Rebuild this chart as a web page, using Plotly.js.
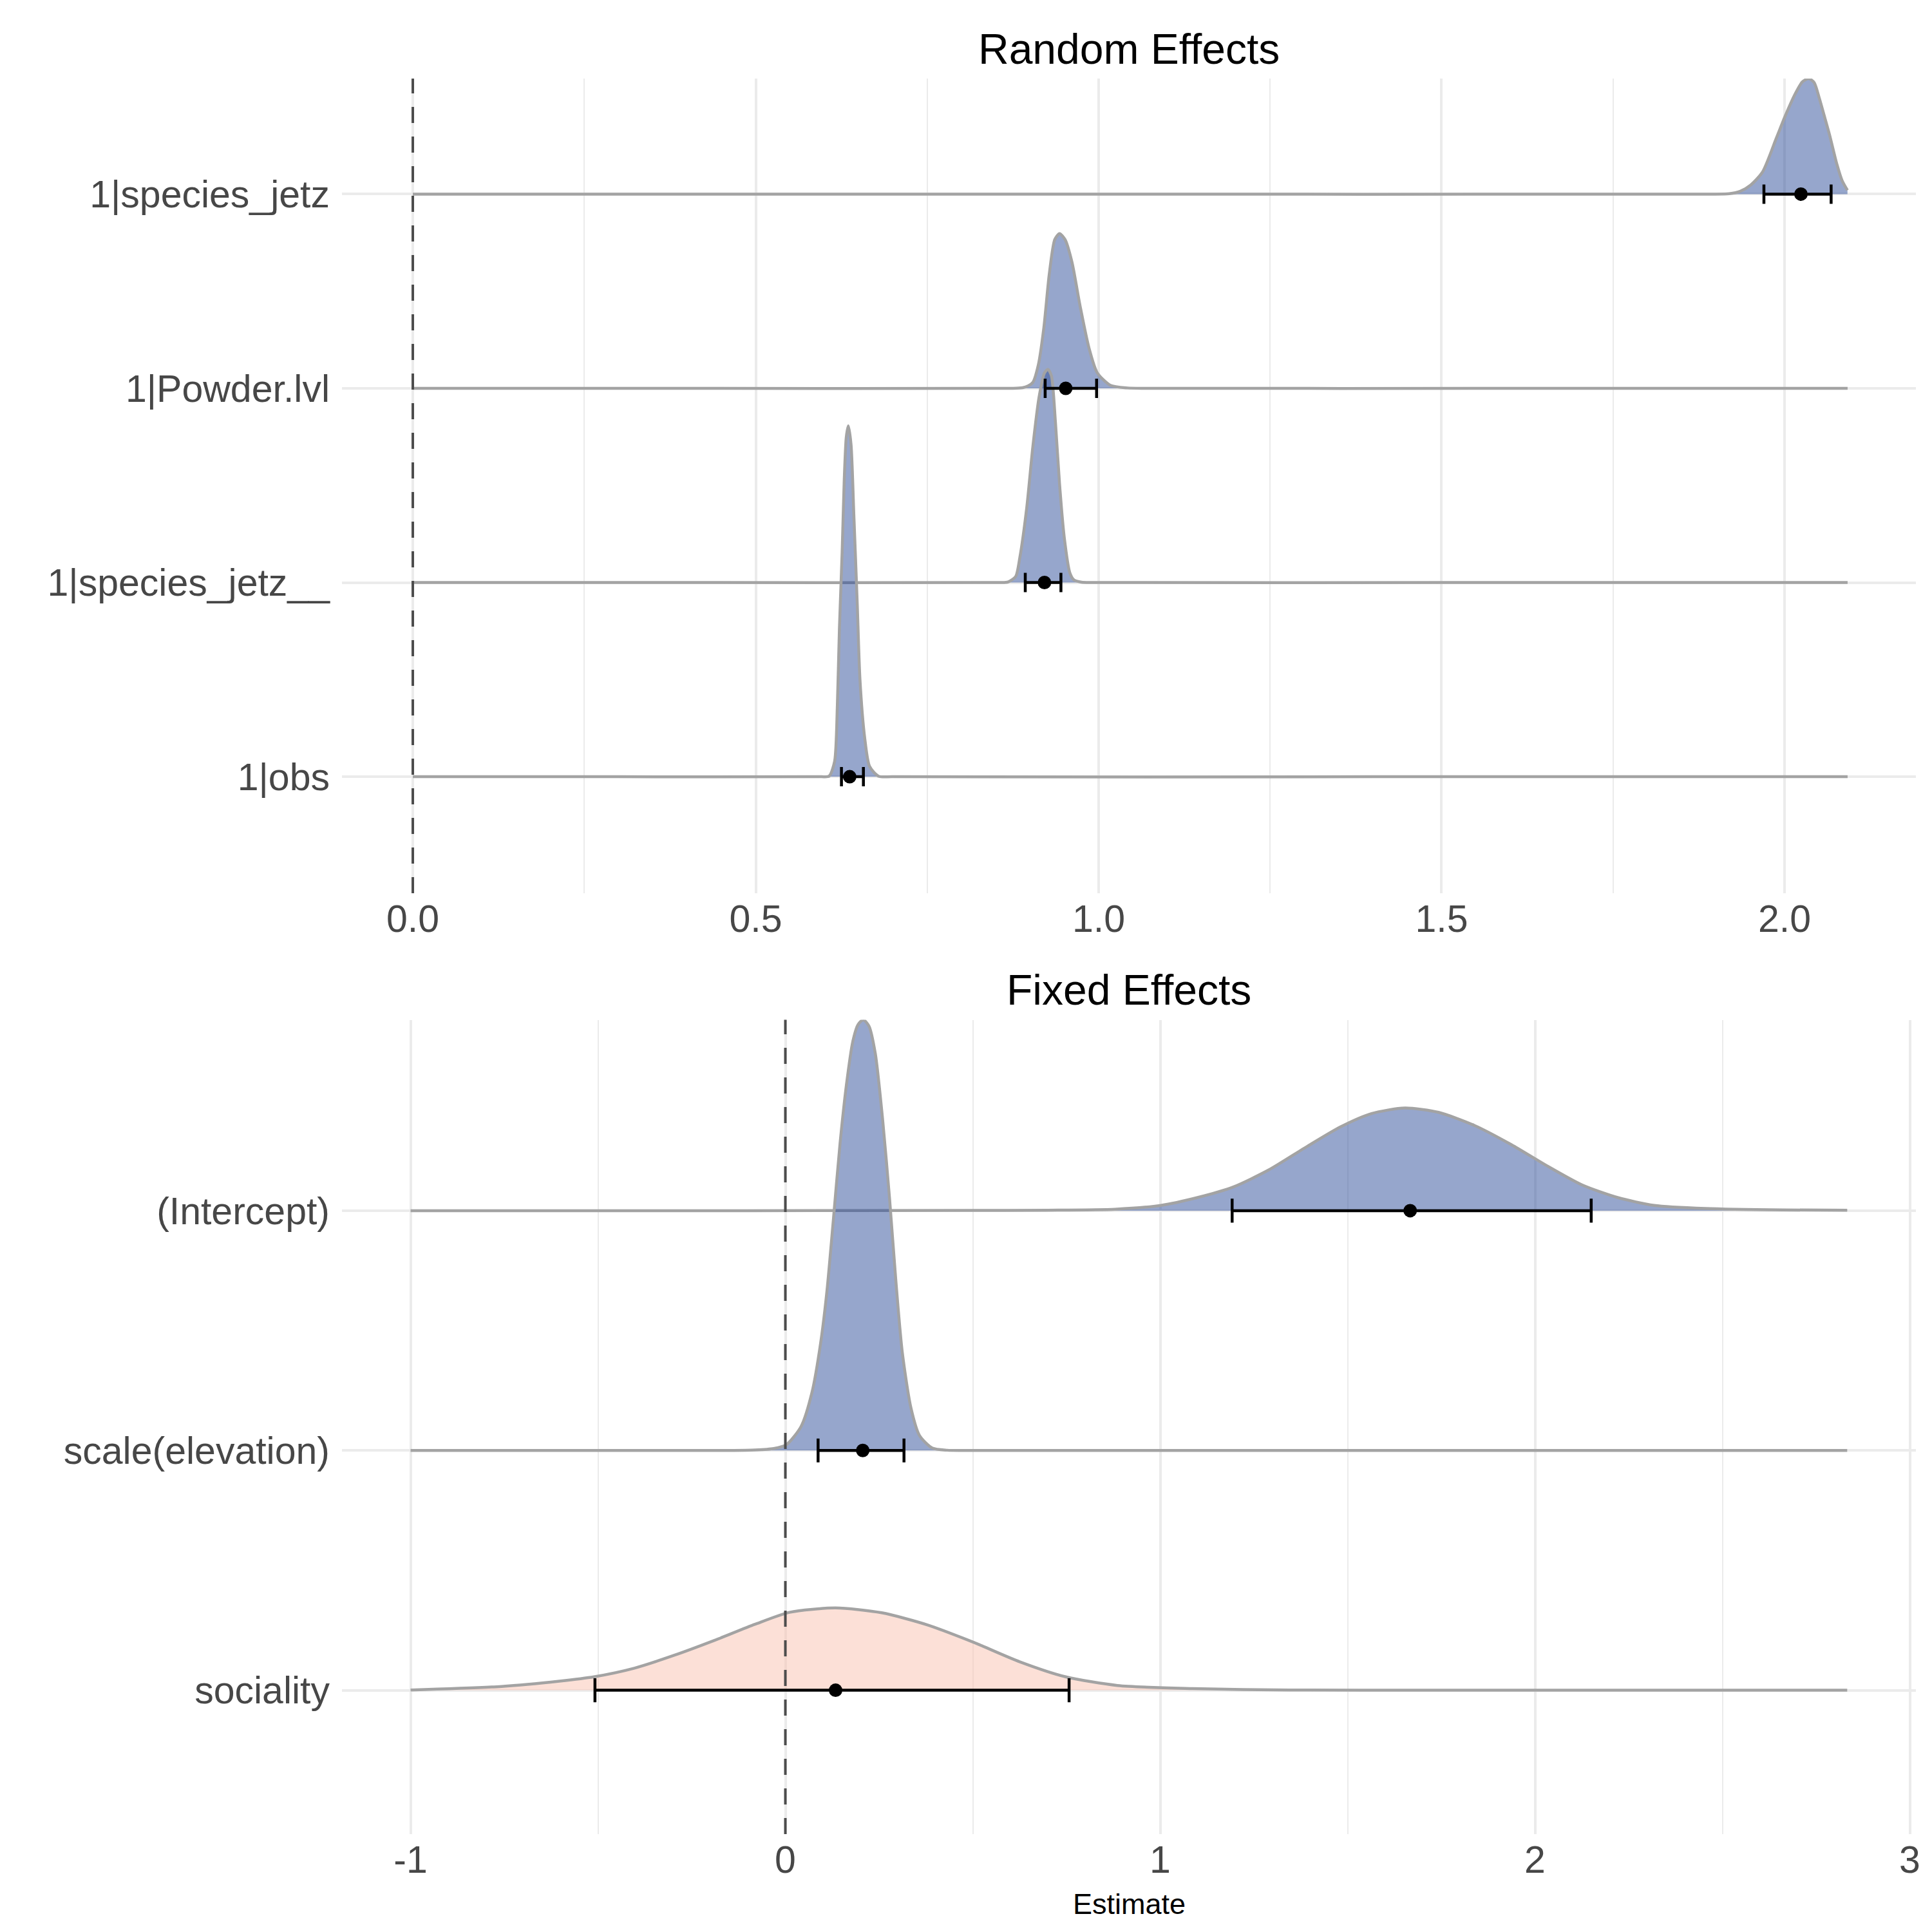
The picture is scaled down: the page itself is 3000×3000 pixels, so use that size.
<!DOCTYPE html>
<html>
<head>
<meta charset="utf-8">
<script src="https://cdn.plot.ly/plotly-3.0.1.min.js"></script>
<style>html,body{margin:0;padding:0;background:#fff;}#chart{width:3000px;height:3000px;}</style>
</head>
<body>
<div id="chart"></div>
<script>
// ---------- Random effects (top panel) ----------
const randomCats = ['1|obs', '1|species_jetz__', '1|Powder.lvl', '1|species_jetz'];
const randomTickVals = [0, 0.5, 1, 1.5, 2];
const randomTickText = ['0.0', '0.5', '1.0', '1.5', '2.0'];
const randomMinor = [0.25, 0.75, 1.25, 1.75];

// posterior densities (x, scaled ridge height)
const obsX = [0, 0.30, 0.595, 0.607, 0.615, 0.619, 0.622, 0.626, 0.629, 0.632, 0.635, 0.639, 0.643, 0.648, 0.652, 0.659, 0.666, 0.679, 0.70, 1.4, 2.092];
const obsH = [0, 0, 0, 0.003, 0.079, 0.368, 0.762, 1.157, 1.525, 1.748, 1.807, 1.709, 1.355, 0.894, 0.50, 0.197, 0.053, 0.003, 0, 0, 0];

const sjuX = [0, 0.45, 0.855, 0.868, 0.879, 0.885, 0.895, 0.904, 0.913, 0.921, 0.926, 0.931, 0.937, 0.943, 0.950, 0.958, 0.964, 0.975, 0.99, 1.5, 2.092];
const sjuH = [0, 0, 0, 0.003, 0.031, 0.127, 0.381, 0.698, 0.952, 1.079, 1.098, 1.066, 0.826, 0.507, 0.228, 0.05, 0.013, 0.002, 0, 0, 0];

const powX = [0, 0.45, 0.875, 0.889, 0.897, 0.904, 0.912, 0.920, 0.928, 0.936, 0.943, 0.951, 0.961, 0.973, 0.986, 0.998, 1.017, 1.042, 1.07, 1.6, 2.092];
const powH = [0, 0, 0, 0.003, 0.012, 0.03, 0.12, 0.31, 0.588, 0.766, 0.797, 0.766, 0.651, 0.423, 0.207, 0.08, 0.016, 0.002, 0, 0, 0];

const sjX = [0, 0.95, 1.890, 1.9195, 1.9352, 1.9508, 1.9680, 1.9884, 2.0009, 2.0150, 2.0260, 2.0354, 2.0432, 2.0511, 2.0573, 2.0661, 2.0761, 2.0840, 2.0918];
const sjH = [0, 0, 0, 0.002, 0.014, 0.047, 0.114, 0.291, 0.401, 0.512, 0.578, 0.595, 0.575, 0.49, 0.412, 0.30, 0.158, 0.07, 0.02];

const randomEst = [0.637, 0.921, 0.952, 2.024];
const randomLo  = [0.625, 0.893, 0.922, 1.970];
const randomHi  = [0.657, 0.945, 0.997, 2.068];

// ---------- Fixed effects (bottom panel) ----------
const fixedCats = ['sociality', 'scale(elevation)', '(Intercept)'];
const fixedTickVals = [-1, 0, 1, 2, 3];
const fixedTickText = ['-1', '0', '1', '2', '3'];
const fixedMinor = [-0.5, 0.5, 1.5, 2.5];

const socX = [-1, -0.757, -0.603, -0.511, -0.403, -0.296, -0.189, -0.081, 0.011, 0.134, 0.257, 0.380, 0.502, 0.625, 0.748, 0.886, 1.086, 1.344, 1.70, 2.25, 2.833];
const socH = [0.001, 0.016, 0.038, 0.056, 0.092, 0.146, 0.208, 0.275, 0.325, 0.343, 0.323, 0.272, 0.20, 0.119, 0.056, 0.02, 0.007, 0.001, 0, 0, 0];

const elevX = [-1, -0.55, -0.15, -0.08, -0.031, 0.002, 0.042, 0.071, 0.094, 0.111, 0.128, 0.146, 0.163, 0.180, 0.194, 0.208, 0.223, 0.240, 0.260, 0.278, 0.295, 0.312, 0.335, 0.358, 0.392, 0.432, 0.48, 1.6, 2.833];
const elevH = [0, 0, 0, 0.002, 0.008, 0.023, 0.10, 0.242, 0.447, 0.666, 0.961, 1.282, 1.526, 1.706, 1.776, 1.796, 1.77, 1.655, 1.372, 1.051, 0.704, 0.409, 0.178, 0.062, 0.01, 0.001, 0, 0, 0];

const intX = [-1, -0.1, 0.50, 0.70, 0.879, 1.002, 1.098, 1.194, 1.290, 1.386, 1.482, 1.564, 1.653, 1.743, 1.839, 1.935, 2.031, 2.126, 2.222, 2.318, 2.455, 2.661, 2.833];
const intH = [0, 0, 0.001, 0.002, 0.006, 0.022, 0.054, 0.098, 0.17, 0.262, 0.35, 0.405, 0.428, 0.41, 0.355, 0.277, 0.188, 0.107, 0.054, 0.022, 0.009, 0.003, 0.002];

const fixedEst = [0.134, 0.2065, 1.667];
const fixedLo  = [-0.508, 0.0873, 1.192];
const fixedHi  = [0.757, 0.3165, 2.150];

// ---------- styling ----------
const BLUE = 'rgba(45,77,153,0.5)';
const SALMON = 'rgba(249,194,175,0.5)';
const OUTLINE = '#A3A3A3';
const GRID = '#EBEBEB';
const FONT = 'Liberation Sans, Arial, Helvetica, sans-serif';

const traces = [];
function ridge(xs, hs, level, fill, xa, ya) {
  traces.push({
    type: 'scatter', mode: 'lines', x: [xs[0], xs[xs.length - 1]], y: [level, level],
    xaxis: xa, yaxis: ya, line: {width: 0, color: 'rgba(0,0,0,0)'}, hoverinfo: 'skip', showlegend: false
  });
  traces.push({
    type: 'scatter', mode: 'lines', x: xs, y: hs.map(h => level + h),
    xaxis: xa, yaxis: ya, fill: 'tonexty', fillcolor: fill,
    line: {color: OUTLINE, width: 4.5, shape: 'spline', smoothing: 0.7}, hoverinfo: 'skip', showlegend: false
  });
}

// ridges drawn from the top row down, so lower rows overlap upper ones
ridge(sjX, sjH, 4, BLUE, 'x', 'y');
ridge(powX, powH, 3, BLUE, 'x', 'y');
ridge(sjuX, sjuH, 2, BLUE, 'x', 'y');
ridge(obsX, obsH, 1, BLUE, 'x', 'y');

ridge(intX, intH, 3, BLUE, 'x2', 'y2');
ridge(elevX, elevH, 2, BLUE, 'x2', 'y2');
ridge(socX, socH, 1, SALMON, 'x2', 'y2');

function intervals(est, lo, hi, xa, ya, capw) {
  traces.push({
    type: 'scatter', mode: 'markers', x: est, y: est.map((_, i) => i + 1),
    xaxis: xa, yaxis: ya,
    marker: {color: '#000', size: 21, line: {width: 0}},
    error_x: {
      type: 'data', symmetric: false,
      array: hi.map((v, i) => v - est[i]),
      arrayminus: lo.map((v, i) => est[i] - v),
      color: '#000', thickness: 4.5, width: capw
    },
    hoverinfo: 'skip', showlegend: false
  });
}
intervals(randomEst, randomLo, randomHi, 'x', 'y', 15);
intervals(fixedEst, fixedLo, fixedHi, 'x2', 'y2', 18.6);

const L = 531 / 3000, R = 2975 / 3000;
const tickFont = {family: FONT, size: 59, color: '#474747'};

function xAxis(range, vals, text, minor, anchor) {
  return {
    domain: [L, R], anchor: anchor, range: range,
    tickmode: 'array', tickvals: vals, ticktext: text,
    showgrid: true, gridcolor: GRID, gridwidth: 4,
    minor: {tickmode: 'array', tickvals: minor, showgrid: true, gridcolor: GRID, gridwidth: 2, ticks: ''},
    zeroline: false, showline: false, ticks: '', tickfont: tickFont, fixedrange: true
  };
}
function yAxis(domain, range, cats, anchor) {
  return {
    domain: domain, anchor: anchor, range: range,
    tickmode: 'array', tickvals: cats.map((_, i) => i + 1), ticktext: cats,
    showgrid: true, gridcolor: GRID, gridwidth: 4,
    zeroline: false, showline: false, ticks: '', tickfont: tickFont, fixedrange: true,
    ticklabelstandoff: 18
  };
}

const layout = {
  width: 3000, height: 3000,
  margin: {l: 0, r: 0, t: 0, b: 0},
  paper_bgcolor: '#fff', plot_bgcolor: '#fff',
  showlegend: false,
  font: {family: FONT},
  xaxis: xAxis([-0.1033, 2.1916], randomTickVals, randomTickText, randomMinor, 'y'),
  yaxis: yAxis([1 - 1387 / 3000, 1 - 122 / 3000], [0.4, 4.595], randomCats, 'x'),
  xaxis2: xAxis([-1.183, 3.0163], fixedTickVals, fixedTickText, fixedMinor, 'y2'),
  yaxis2: yAxis([1 - 2848 / 3000, 1 - 1583.5 / 3000], [0.4, 3.796], fixedCats, 'x2'),
  shapes: [
    {type: 'line', xref: 'x', yref: 'y domain', x0: 0, x1: 0, y0: 0, y1: 1, layer: 'above',
     line: {color: '#4D4D4D', width: 4, dash: '25px,21px'}},
    {type: 'line', xref: 'x2', yref: 'y2 domain', x0: 0, x1: 0, y0: 0, y1: 1, layer: 'above',
     line: {color: '#4D4D4D', width: 4, dash: '25px,21px'}}
  ],
  annotations: [
    {text: 'Random Effects', xref: 'paper', yref: 'paper', x: 1753 / 3000, y: 1 - 76 / 3000,
     xanchor: 'center', yanchor: 'middle', showarrow: false, font: {family: FONT, size: 66, color: '#000'}},
    {text: 'Fixed Effects', xref: 'paper', yref: 'paper', x: 1753 / 3000, y: 1 - 1537 / 3000,
     xanchor: 'center', yanchor: 'middle', showarrow: false, font: {family: FONT, size: 66, color: '#000'}},
    {text: 'Estimate', xref: 'paper', yref: 'paper', x: 1753 / 3000, y: 1 - 2956 / 3000,
     xanchor: 'center', yanchor: 'middle', showarrow: false, font: {family: FONT, size: 45, color: '#000'}}
  ]
};

Plotly.newPlot('chart', traces, layout, {displayModeBar: false, staticPlot: true});
</script>
</body>
</html>
